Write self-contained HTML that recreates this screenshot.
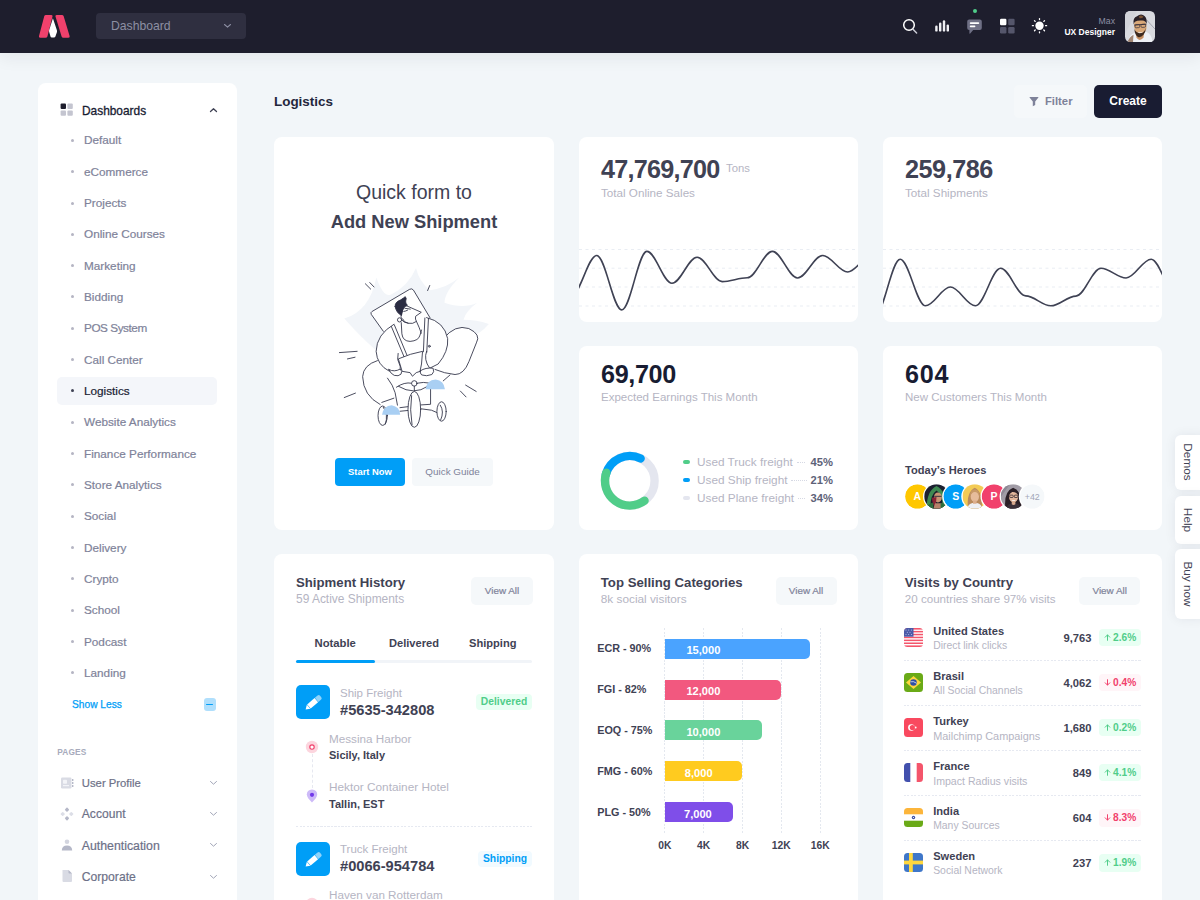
<!DOCTYPE html>
<html lang="en">
<head>
<meta charset="utf-8">
<title>Logistics Dashboard</title>
<style>
*{box-sizing:border-box;margin:0;padding:0}
html,body{width:1200px;height:900px;overflow:hidden}
body{background:#f2f6f9;font-family:"Liberation Sans",sans-serif;color:#3f4254;position:relative}
.abs{position:absolute}
/* header */
#hdr{position:absolute;left:0;top:0;width:1200px;height:52.500px;background:#1e1e2d;box-shadow:0 5px 16px rgba(30,30,45,.065)}
#sel{position:absolute;left:96px;top:13px;width:150px;height:26px;border-radius:4px;background:#2f2f40;color:#8d8fa3;font-size:12.200px;line-height:26px;padding-left:15px}
/* sidebar */
#side{position:absolute;left:38px;top:83px;width:199px;height:830px;background:#fff;border-radius:8px}
.mi{position:absolute;left:84px;font-size:11.750px;-webkit-text-stroke:.2px currentColor;color:#7e8299;font-weight:400;white-space:nowrap;line-height:14px}
.dot{position:absolute;left:71px;width:3px;height:3px;border-radius:50%;background:#b5b5c3}
.pg{position:absolute;left:81.800px;margin-top:.5px;font-size:11.9px;-webkit-text-stroke:.2px currentColor;color:#6d7188;white-space:nowrap;line-height:14px}
/* cards */
.card{position:absolute;background:#fff;border-radius:8px}
.big{position:absolute;font-weight:700;color:#3f4254;font-size:25px;letter-spacing:-.6px;line-height:30px;white-space:nowrap}
.sub{position:absolute;font-size:11.2px;color:#b5b5c3;white-space:nowrap;line-height:14px}
.ttl{position:absolute;font-size:13.3px;font-weight:700;color:#3f4254;white-space:nowrap;line-height:16px}
.va{position:absolute;width:62px;height:27.500px;border-radius:5px;background:#f5f8fa;color:#7e8299;font-size:9.6px;line-height:27.500px;-webkit-text-stroke:.2px currentColor;text-align:center}
.t{position:absolute;white-space:nowrap}
</style>
</head>
<body>
<!-- HEADER -->
<div id="hdr">
  <svg class="abs" style="left:38px;top:13px" width="33" height="26" viewBox="0 0 33 26">
    <path d="M7.900 1.900 H13.400 Q15 1.900 14.500 3.500 L9.400 23.400 Q9 24.800 7.500 24.800 H2.300 Q0.300 24.800 1 23 L6.300 3.100 Q6.700 1.900 7.900 1.900Z" fill="#f1416c"/>
    <path d="M18.600 1.900 H24 Q25.200 1.900 25.600 3.100 L31.600 23 Q32.200 24.800 30.400 24.800 H25.400 Q24 24.800 23.600 23.400 L17.500 3.500 Q17 1.900 18.600 1.900Z" fill="#f1416c"/>
    <path d="M14.900 5.200 L18.900 17.300 Q19.200 18.300 18.900 19.200 L17.400 23.500 Q17 24.500 16 24.500 H13.800 Q12.800 24.500 12.500 23.500 L11.200 19 Q10.900 18 11.200 17Z" fill="#ffffff"/>
  </svg>
  <div id="sel">Dashboard</div>
  <svg class="abs" style="left:223px;top:23px" width="9" height="6" viewBox="0 0 9 6"><path d="M1.5 1.5 L4.5 4.2 L7.5 1.5" fill="none" stroke="#8d8fa3" stroke-width="1.1" stroke-linecap="round" stroke-linejoin="round"/></svg>
  <!-- search -->
  <svg class="abs" style="left:901px;top:17px" width="18" height="18" viewBox="0 0 18 18"><circle cx="8" cy="8" r="5.3" fill="none" stroke="#fff" stroke-width="1.5"/><path d="M12 12.2 L15.6 16" stroke="#c9cad3" stroke-width="1.5" stroke-linecap="round"/></svg>
  <!-- bars -->
  <svg class="abs" style="left:934px;top:18px" width="16" height="15" viewBox="0 0 16 15"><g fill="#f0f0f4"><rect x="1.2" y="7.6" width="2.4" height="6" rx="1.2"/><rect x="5.0" y="4.6" width="2.4" height="9" rx="1.2"/><rect x="8.8" y="2.2" width="2.4" height="11.4" rx="1.2"/><rect x="12.6" y="6.4" width="2.4" height="7.2" rx="1.2"/></g></svg>
  <!-- chat -->
  <div class="abs" style="left:972.5px;top:9px;width:4px;height:4px;border-radius:50%;background:#50cd89"></div>
  <svg class="abs" style="left:966px;top:18px" width="17" height="17" viewBox="0 0 17 17"><path d="M3.2 1.4 H13.8 Q15.8 1.4 15.8 3.4 V10 Q15.8 12 13.8 12 H7.2 L4.2 15.4 Q3.4 16.2 3.4 15 V12 H3.2 Q1.2 12 1.2 10 V3.4 Q1.2 1.4 3.2 1.4Z" fill="#6f7085"/><rect x="3.8" y="4.3" width="9.4" height="1.7" rx=".8" fill="#fff"/><rect x="3.8" y="7.6" width="5.6" height="1.7" rx=".8" fill="#fff"/></svg>
  <!-- grid -->
  <svg class="abs" style="left:999px;top:18px" width="17" height="17" viewBox="0 0 17 17"><rect x="1" y="0.8" width="6.4" height="6.4" rx="1.2" fill="#fff"/><rect x="9.2" y="0.8" width="6.4" height="6.4" rx="1.2" fill="#55566b"/><rect x="1" y="9" width="6.4" height="6.4" rx="1.2" fill="#55566b"/><rect x="9.2" y="9" width="6.4" height="6.4" rx="1.2" fill="#55566b"/></svg>
  <!-- sun -->
  <svg class="abs" style="left:1030px;top:16px" width="19" height="19" viewBox="0 0 19 19"><circle cx="9.5" cy="9.7" r="4.2" fill="#fff"/><g stroke="#fff" stroke-width="1.3" stroke-linecap="round"><path d="M9.5 2.6v1M9.5 15.8v1M2.4 9.7h1M15.6 9.7h1M4.5 4.7l.7.7M13.8 14l.7.7M4.5 14.7l.7-.7M13.8 5.4l.7-.7"/></g></svg>
  <div class="t" style="right:85px;top:15.700px;font-size:8.7px;color:#8d8fa3;line-height:11px">Max</div>
  <div class="t" style="right:85px;top:26.700px;font-size:8.5px;font-weight:700;color:#fff;line-height:11px">UX Designer</div>
  <!-- avatar -->
  <svg class="abs" style="left:1125px;top:11px" width="30" height="31" viewBox="0 0 30 30" preserveAspectRatio="none">
    <defs><clipPath id="avc"><rect width="30" height="30" rx="5"/></clipPath></defs>
    <g clip-path="url(#avc)">
      <rect width="30" height="30" fill="#d9dadf"/>
      <path d="M0 0 H12 L0 22Z" fill="#d2d3d9"/>
      <path d="M21 8 L30 17.500" stroke="#8f8f9c" stroke-width=".7"/>
      <path d="M3 30 Q4 22.500 10 21 L21 20 Q27 22 27.500 30Z" fill="#eef1f6"/>
      <path d="M2.500 30 Q4.500 25 8.500 23 L8 30Z" fill="#a08573"/>
      <path d="M10.500 19 L19.500 18 L18.500 26 Q14.500 30 11.500 26Z" fill="#c58f63"/>
      <ellipse cx="15.300" cy="14.600" rx="6.300" ry="8" fill="#d9a878" transform="rotate(-6 15.300 14.600)"/>
      <path d="M9.400 17.500 Q9.800 23.500 13 25.200 Q16 26 18.500 23 Q20.600 20.500 20.900 16 Q19.500 21.500 15.500 21.300 Q11 21.500 9.400 17.500Z" fill="#3c2a20"/>
      <path d="M12.500 20.600 Q15.500 22.800 18.200 19.800 Q15.600 20.800 12.500 20.600Z" fill="#f6efe9"/>
      <path d="M8.600 13 Q7.600 6.500 12 5.200 Q15 2.500 18 3.800 Q22.200 5.500 21.700 12.500 Q20.500 9.500 17.500 9.300 Q12.500 8.800 10 10.500 Q9 11.500 8.600 13Z" fill="#2a2027"/>
      <path d="M14 5 Q16 3.500 18.500 5.500 Q17 7.500 14.500 7Z" fill="#7a5232"/>
      <path d="M9.300 13.600 L21.400 12.800" stroke="#2f2a33" stroke-width=".9"/>
      <rect x="10" y="13.200" width="4.600" height="3" rx="1" fill="none" stroke="#3b3440" stroke-width=".7" transform="rotate(-4 12 14)"/>
      <rect x="16" y="12.800" width="4.600" height="3" rx="1" fill="none" stroke="#3b3440" stroke-width=".7" transform="rotate(-4 18 14)"/>
    </g>
  </svg>
</div>

<!-- SIDEBAR -->
<div id="side"></div>
<!-- dashboards heading -->
<svg class="abs" style="left:60px;top:103px" width="14" height="14" viewBox="0 0 14 14"><rect x="0.6" y="0.6" width="5.4" height="5.4" rx="1" fill="#1e1e2d"/><rect x="7.4" y="0.6" width="5.4" height="5.4" rx="1" fill="#c4c5d0"/><rect x="0.6" y="7.4" width="5.4" height="5.4" rx="1" fill="#c4c5d0"/><rect x="7.4" y="7.4" width="5.4" height="5.4" rx="1" fill="#c4c5d0"/></svg>
<div class="t" style="left:82px;top:103.700px;font-size:11.9px;color:#181c32;line-height:14px;-webkit-text-stroke:.3px currentColor">Dashboards</div>
<svg class="abs" style="left:209px;top:107px" width="9" height="6" viewBox="0 0 9 6"><path d="M1.5 4.5 L4.5 1.7 L7.5 4.5" fill="none" stroke="#3f4254" stroke-width="1.3" stroke-linecap="round" stroke-linejoin="round"/></svg>
<div class="dot" style="top:138.8px"></div>
<div class="mi" style="top:133.3px">Default</div>
<div class="dot" style="top:170.1px"></div>
<div class="mi" style="top:164.6px">eCommerce</div>
<div class="dot" style="top:201.5px"></div>
<div class="mi" style="top:196.0px">Projects</div>
<div class="dot" style="top:232.8px"></div>
<div class="mi" style="top:227.3px">Online Courses</div>
<div class="dot" style="top:264.1px"></div>
<div class="mi" style="top:258.6px">Marketing</div>
<div class="dot" style="top:295.4px"></div>
<div class="mi" style="top:289.9px">Bidding</div>
<div class="dot" style="top:326.8px"></div>
<div class="mi" style="top:321.3px;letter-spacing:-.45px">POS System</div>
<div class="dot" style="top:358.1px"></div>
<div class="mi" style="top:352.6px">Call Center</div>
<div class="abs" style="left:57px;top:376.9px;width:160px;height:28px;border-radius:5px;background:#f4f6fa"></div>
<div class="dot" style="top:389.4px;background:#3f4254"></div>
<div class="mi" style="top:383.9px;color:#181c32">Logistics</div>
<div class="dot" style="top:420.8px"></div>
<div class="mi" style="top:415.3px">Website Analytics</div>
<div class="dot" style="top:452.1px"></div>
<div class="mi" style="top:446.6px">Finance Performance</div>
<div class="dot" style="top:483.4px"></div>
<div class="mi" style="top:477.9px">Store Analytics</div>
<div class="dot" style="top:514.8px"></div>
<div class="mi" style="top:509.3px">Social</div>
<div class="dot" style="top:546.1px"></div>
<div class="mi" style="top:540.6px">Delivery</div>
<div class="dot" style="top:577.4px"></div>
<div class="mi" style="top:571.9px">Crypto</div>
<div class="dot" style="top:608.8px"></div>
<div class="mi" style="top:603.2px">School</div>
<div class="dot" style="top:640.1px"></div>
<div class="mi" style="top:634.6px">Podcast</div>
<div class="dot" style="top:671.4px"></div>
<div class="mi" style="top:665.9px">Landing</div>
<div class="pg" style="top:775.6px;font-size:11.3px">User Profile</div>
<svg class="abs" style="left:209px;top:779.6px" width="9" height="6" viewBox="0 0 9 6"><path d="M1.5 1.5 L4.5 4.2 L7.5 1.5" fill="none" stroke="#a1a5b7" stroke-width="1" stroke-linecap="round" stroke-linejoin="round"/></svg>
<div class="pg" style="top:806.9px;font-size:12.1px">Account</div>
<svg class="abs" style="left:209px;top:810.9px" width="9" height="6" viewBox="0 0 9 6"><path d="M1.5 1.5 L4.5 4.2 L7.5 1.5" fill="none" stroke="#a1a5b7" stroke-width="1" stroke-linecap="round" stroke-linejoin="round"/></svg>
<div class="pg" style="top:838.3px;font-size:12.3px">Authentication</div>
<svg class="abs" style="left:209px;top:842.3px" width="9" height="6" viewBox="0 0 9 6"><path d="M1.5 1.5 L4.5 4.2 L7.5 1.5" fill="none" stroke="#a1a5b7" stroke-width="1" stroke-linecap="round" stroke-linejoin="round"/></svg>
<div class="pg" style="top:869.6px;font-size:12.15px">Corporate</div>
<svg class="abs" style="left:209px;top:873.6px" width="9" height="6" viewBox="0 0 9 6"><path d="M1.5 1.5 L4.5 4.2 L7.5 1.5" fill="none" stroke="#a1a5b7" stroke-width="1" stroke-linecap="round" stroke-linejoin="round"/></svg>
<div class="t" style="left:72px;top:698.200px;font-size:10.2px;color:#009ef7;line-height:14px;-webkit-text-stroke:.25px currentColor">Show Less</div>
<div class="abs" style="left:203.500px;top:698.300px;width:12.500px;height:12.300px;border-radius:3px;background:#b0dffc"></div>
<div class="abs" style="left:206px;top:703.500px;width:7px;height:1.500px;border-radius:1px;background:#009ef7"></div>
<div class="t" style="left:57.300px;top:746.200px;font-size:8.300px;font-weight:700;color:#a7abbc;line-height:12px;letter-spacing:.15px">PAGES</div>
<!-- page icons -->
<svg class="abs" style="left:60px;top:776px" width="14" height="14" viewBox="0 0 14 14"><rect x="1" y="1.5" width="10.5" height="11" rx="1.200" fill="#d9dbe4"/><rect x="3" y="3.800" width="4" height="4" rx=".8" fill="#f3f4f8"/><rect x="3" y="9" width="6" height="1.200" fill="#f3f4f8"/><rect x="12" y="3" width="1.400" height="2" fill="#b5b8c8"/><rect x="12" y="6" width="1.400" height="2" fill="#b5b8c8"/><rect x="12" y="9" width="1.400" height="2" fill="#b5b8c8"/></svg>
<svg class="abs" style="left:60px;top:807px" width="14" height="14" viewBox="0 0 14 14"><g fill="#b5b8c8"><rect x="5.3" y="1" width="3.400" height="3.400" rx=".8" transform="rotate(45 7 2.700)"/><rect x="5.3" y="9.600" width="3.400" height="3.400" rx=".8" transform="rotate(45 7 11.300)"/></g><g fill="#dcdee7"><rect x="1" y="5.300" width="3.400" height="3.400" rx=".8" transform="rotate(45 2.700 7)"/><rect x="9.600" y="5.300" width="3.400" height="3.400" rx=".8" transform="rotate(45 11.300 7)"/></g></svg>
<svg class="abs" style="left:60px;top:838px" width="14" height="14" viewBox="0 0 14 14"><circle cx="7" cy="3.800" r="2.300" fill="#d3d5df"/><path d="M1.800 12.600 Q2 7.600 7 7.600 Q12 7.600 12.200 12.600 Z" fill="#b5b8c8"/></svg>
<svg class="abs" style="left:60px;top:869px" width="14" height="14" viewBox="0 0 14 14"><path d="M2.500 1 H8.500 L12 4.500 V12 Q12 13 11 13 H3.500 Q2.500 13 2.500 12Z" fill="#d9dbe4"/><path d="M8.500 1 L12 4.500 H9.300 Q8.500 4.500 8.500 3.700Z" fill="#b5b8c8"/></svg>


<!-- PAGE TITLE -->
<div class="t" style="left:274px;top:93.700px;font-size:13.450px;font-weight:700;color:#23263c;line-height:16px">Logistics</div>
<div class="abs" style="left:1014px;top:85px;width:73px;height:32.500px;border-radius:5px;background:#f5f8fa"></div>
<svg class="abs" style="left:1029px;top:96px" width="10" height="11" viewBox="0 0 10 11"><path d="M0.800 1 H9.2 Q9.8 1 9.400 1.600 L6.2 5.400 V9 L3.800 10.300 V5.400 L0.600 1.600 Q0.200 1 0.800 1Z" fill="#7e8299"/></svg>
<div class="t" style="left:1045px;top:94.300px;font-size:11.250px;font-weight:700;color:#7e8299;line-height:14px">Filter</div>
<div class="abs" style="left:1094px;top:85px;width:68px;height:32.500px;border-radius:5px;background:#191c32;color:#fff;font-size:12px;font-weight:700;line-height:32.500px;text-align:center">Create</div>

<!-- CARDS -->
<div class="card" id="c1" style="left:274px;top:137px;width:280px;height:393px"></div>
<div class="t" style="left:274px;width:280px;text-align:center;top:180px;font-size:19.5px;color:#3f4254;line-height:24px">Quick form to</div>
<div class="t" style="left:274px;width:280px;text-align:center;top:210px;font-size:18.3px;font-weight:700;color:#3f4254;line-height:24px">Add New Shipment</div>
<svg class="abs" style="left:320px;top:250px" width="180" height="190" viewBox="0 0 853 900" fill="none" stroke-linecap="round" stroke-linejoin="round">
  <!-- burst -->
  <path d="M115 325 Q235 290 267 130 Q300 225 335 212 Q420 170 455 85 Q470 150 520 190 Q600 180 660 130 Q590 200 590 250 Q680 280 745 250 Q690 290 680 330 Q740 330 800 350 Q760 400 690 420 L600 470 L260 470 Q200 420 115 325Z" fill="#f2f5f9" stroke="none"/>
  <g stroke="#33354a" stroke-width="4.200">
  <!-- board -->
  <path d="M300 385 L243 305 Q238 296 247 291 L425 186 Q436 180 443 190 L522 322" fill="#fff"/>
  <!-- right leg (behind) -->
  <path d="M585 420 Q640 350 705 372 Q765 400 741 440 L706 528 Q682 590 640 590 Q590 585 545 566" fill="#fff"/><path d="M616 592 L584 620"/>
  <!-- left leg -->
  <path d="M272 524 Q205 545 202 600 Q205 690 280 730 L367 735 L355 675 L320 607 L290 540 Z" fill="#fff" stroke="none"/><path d="M272 524 Q205 545 202 600 Q205 690 285 732"/><path d="M320 607 Q346 640 356 676 L367 735"/>
  <!-- torso -->
  <path d="M350 350 Q300 380 280 430 L300 560 L540 560 L600 430 Q580 350 510 322 Z" fill="#fff" stroke="none"/>
  <!-- left arm -->
  <path d="M350 352 Q268 400 266 480 Q270 545 330 575 L372 585 Q385 560 378 545 Q362 520 370 490" fill="#fff"/>
  <!-- right arm -->
  <path d="M505 320 Q590 340 605 420 Q610 480 560 540 L520 560 Q490 520 505 480" fill="#fff"/>
  <!-- overall bib -->
  <path d="M373 515 Q430 490 486 480 L481 540 L474 575 L456 581 L438 598 L427 581 L391 575 Z" fill="#fff"/>
  <!-- suspenders -->
  <path d="M338 362 L398 505 M352 354 L412 498 M497 322 L490 482 M514 324 L506 484"/>
  <!-- neck + neckline -->
  <path d="M385 344 L388 397 Q392 432 427 433 Q468 430 474 403 L481 379" fill="#fff"/>
  <path d="M457 338 Q470 365 480 394"/>
  <!-- head -->
  <path d="M403 261 L480 295 L453 314 Q450 328 457 338 Q440 352 418 347 Q396 344 386 330 Q378 300 403 261Z" fill="#fff"/>
  <path d="M391 326 Q397 344 418 347"/>
  <circle cx="377" cy="331" r="10" fill="#fff"/>
  <path d="M397 291 Q406 290 415 285 M402 276 L428 280"/>
  <circle cx="518" cy="456" r="4.500"/>
  <!-- hair -->
  <path d="M356 268 Q354 246 383 236 Q398 226 404 221 Q412 228 406 242 Q404 252 414 262 Q398 266 392 284 L386 310 Q362 298 356 268Z" fill="#2a2c42" stroke="#2a2c42"/>
  <!-- hands -->
  <path d="M326 566 Q352 580 380 564 Q392 574 384 588 Q372 600 352 594 Q336 588 326 566Z" fill="#fff"/>
  <path d="M476 572 Q500 556 536 560 Q544 578 530 590 Q505 600 482 592 Q472 584 476 572Z" fill="#fff"/>
  <!-- handlebar -->
  
  <circle cx="447" cy="632" r="13" fill="#fff"/>
  <path d="M362 650 Q400 624 433 631 M460 631 Q492 624 516 630 M372 646 Q446 690 510 646"/>
  <!-- frame -->
  <path d="M447 645 L447 668 M524 660 L524 731 L478 734 M379 747 L427 741 M379 764 L438 758 M478 752 Q530 752 575 779"/>
  <!-- wheels -->
  <ellipse cx="447" cy="755" rx="30" ry="85" fill="#fff"/>
  <path d="M434 690 Q424 755 436 828"/>
  <ellipse cx="576" cy="765" rx="22" ry="46" fill="#fff"/>
  <path d="M570 735 Q590 765 572 805"/>
  <ellipse cx="297" cy="785" rx="22" ry="46" fill="#fff"/>
  <path d="M300 745 Q325 780 310 825"/>
  <!-- cuffs -->
  <path d="M293 722 L350 702"/>
  <!-- motion lines -->
  <path d="M215 160 L240 185 M236 154 L256 175 M510 192 L520 168 M92 486 L176 480 M130 516 L166 508 M115 699 L168 678 M665 668 L692 696 M690 640 L740 670"/>
  </g>
  <!-- shoes -->
  <path d="M500 660 Q505 615 548 613 Q588 618 592 660Z" fill="#a9cff3" stroke="none"/>
  <path d="M294 780 Q300 738 340 735 Q378 742 380 780Z" fill="#a9cff3" stroke="none"/>
</svg>
<div class="abs" style="left:335px;top:458px;width:70px;height:28px;border-radius:4px;background:#009ef7;color:#fff;font-size:9.400px;font-weight:700;line-height:28px;text-align:center">Start Now</div>
<div class="abs" style="left:412px;top:458px;width:81px;height:28px;border-radius:4px;background:#f5f8fa;color:#7e8299;font-size:9.900px;line-height:28px;text-align:center">Quick Guide</div>
<div class="card" id="c2" style="left:579px;top:137px;width:279px;height:185px;overflow:hidden"><svg class="abs" style="left:0;top:0;border-radius:8px" width="279" height="185" viewBox="0 0 279 185"><path d="M0 112.5 H279" stroke="#e9edf3" stroke-width="1" stroke-dasharray="3 3.500"/><path d="M0 131.2 H279" stroke="#e9edf3" stroke-width="1" stroke-dasharray="3 3.500"/><path d="M0 150.0 H279" stroke="#e9edf3" stroke-width="1" stroke-dasharray="3 3.500"/><path d="M0 169.0 H279" stroke="#e9edf3" stroke-width="1" stroke-dasharray="3 3.500"/><path d="M-7.4 158.3 C1.4 158.3 8.9 118.5 17.7 118.5 C26.5 118.5 34.0 172.9 42.8 172.9 C51.6 172.9 59.1 114.4 67.9 114.4 C76.7 114.4 84.2 146.3 93.0 146.3 C101.8 146.3 109.3 120.2 118.1 120.2 C126.9 120.2 134.4 144.6 143.2 144.6 C152.0 144.6 159.5 140.8 168.3 140.8 C177.1 140.8 184.6 114.4 193.4 114.4 C202.2 114.4 209.7 141.0 218.5 141.0 C227.3 141.0 234.8 118.5 243.6 118.5 C252.4 118.5 259.9 135.0 268.7 135.0 C277.5 135.0 285.0 117.1 293.8 117.1" fill="none" stroke="#3f4254" stroke-width="1.600" stroke-linecap="round"/></svg>
<div class="big" style="left:22px;top:16.500px;font-size:25.200px;letter-spacing:-.75px">47,769,700</div>
<div class="t" style="left:147px;top:25.300px;font-size:11.300px;color:#b5b5c3;line-height:12px">Tons</div>
<div class="sub" style="left:22px;top:49px;font-size:11.660px">Total Online Sales</div>
</div>
<div class="card" id="c3" style="left:883px;top:137px;width:279px;height:185px;overflow:hidden"><svg class="abs" style="left:0;top:0;border-radius:8px" width="279" height="185" viewBox="0 0 279 185"><path d="M0 112.5 H279" stroke="#e9edf3" stroke-width="1" stroke-dasharray="3 3.500"/><path d="M0 131.2 H279" stroke="#e9edf3" stroke-width="1" stroke-dasharray="3 3.500"/><path d="M0 150.0 H279" stroke="#e9edf3" stroke-width="1" stroke-dasharray="3 3.500"/><path d="M0 169.0 H279" stroke="#e9edf3" stroke-width="1" stroke-dasharray="3 3.500"/><path d="M-7.9 178.3 C0.9 178.3 8.4 122.2 17.2 122.2 C26.0 122.2 33.5 168.8 42.3 168.8 C51.1 168.8 58.6 150.0 67.4 150.0 C76.2 150.0 83.7 168.8 92.5 168.8 C101.3 168.8 108.8 131.3 117.6 131.3 C126.4 131.3 133.9 158.9 142.7 158.9 C151.5 158.9 159.0 168.8 167.8 168.8 C176.6 168.8 184.1 159.1 192.9 159.1 C201.7 159.1 209.2 131.3 218.0 131.3 C226.8 131.3 234.3 141.0 243.1 141.0 C251.9 141.0 259.4 122.2 268.2 122.2 C277.0 122.2 284.5 158.8 293.3 158.8" fill="none" stroke="#3f4254" stroke-width="1.600" stroke-linecap="round"/></svg>
<div class="big" style="left:22px;top:16.500px;font-size:25.200px;letter-spacing:-.45px">259,786</div>
<div class="sub" style="left:22px;top:49px;font-size:11.660px">Total Shipments</div>
</div>
<div class="card" id="c4" style="left:579px;top:346px;width:279px;height:184px"><svg class="abs" style="left:0;top:0" width="110" height="184" viewBox="0 0 110 184"><circle cx="50.8" cy="134.8" r="24.8" fill="none" stroke="#e4e6ef" stroke-width="8.400"/><path d="M26.85 128.38 A24.8 24.8 0 0 1 61.67 112.51" fill="none" stroke="#009ef7" stroke-width="8.400" stroke-linecap="round"/><path d="M65.59 154.71 A24.8 24.8 0 0 1 27.35 126.73" fill="none" stroke="#50cd89" stroke-width="8.400" stroke-linecap="round"/></svg>
<div class="big" style="left:22px;top:12.500px;font-size:25.200px;letter-spacing:-.35px;color:#181c32">69,700</div>
<div class="sub" style="left:22px;top:44px;font-size:11.530px">Expected Earnings This Month</div>
<div class="abs" style="left:104px;top:114px;width:7px;height:4px;border-radius:2px;background:#50cd89"></div>
<div class="t" style="left:118px;top:109px;font-size:11.800px;color:#b5b5c3;line-height:14px">Used Truck freight</div>
<div class="abs" style="left:218px;top:116px;width:8px;border-top:1px dotted #d6d9e4"></div>
<div class="t" style="right:25px;top:109px;font-size:11.200px;font-weight:700;color:#5e6278;line-height:14px">45%</div>
<div class="abs" style="left:104px;top:132px;width:7px;height:4px;border-radius:2px;background:#009ef7"></div>
<div class="t" style="left:118px;top:127px;font-size:11.800px;color:#b5b5c3;line-height:14px">Used Ship freight</div>
<div class="abs" style="left:212px;top:134px;width:16px;border-top:1px dotted #d6d9e4"></div>
<div class="t" style="right:25px;top:127px;font-size:11.200px;font-weight:700;color:#5e6278;line-height:14px">21%</div>
<div class="abs" style="left:104px;top:150px;width:7px;height:4px;border-radius:2px;background:#e4e6ef"></div>
<div class="t" style="left:118px;top:145px;font-size:11.800px;color:#b5b5c3;line-height:14px">Used Plane freight</div>
<div class="abs" style="left:219px;top:152px;width:7px;border-top:1px dotted #d6d9e4"></div>
<div class="t" style="right:25px;top:145px;font-size:11.200px;font-weight:700;color:#5e6278;line-height:14px">34%</div>
</div>
<div class="card" id="c5" style="left:883px;top:346px;width:279px;height:184px">
<div class="big" style="left:22px;top:12.500px;font-size:25.200px;letter-spacing:.7px;color:#181c32">604</div>
<div class="sub" style="left:22px;top:44px;font-size:11.530px">New Customers This Month</div>
<div class="t" style="left:22px;top:117px;font-size:11.100px;font-weight:700;color:#3f4254;line-height:14px">Today’s Heroes</div>
<svg class="abs" style="left:0;top:137.2px" width="200" height="27" viewBox="0 0 200 27"><defs><clipPath id="hc"><circle cx="13.5" cy="13.5" r="12.3"/></clipPath></defs><g transform="translate(20.9 0)"><circle cx="13.5" cy="13.5" r="13.500" fill="#fff"/><g clip-path="url(#hc)"><circle cx="13.5" cy="13.5" r="12.3" fill="#ffc700"/><text x="13.5" y="17.300" text-anchor="middle" font-family="Liberation Sans, sans-serif" font-size="10.500" font-weight="700" fill="#fff">A</text></g></g><g transform="translate(40.0 0)"><circle cx="13.5" cy="13.5" r="13.500" fill="#fff"/><g clip-path="url(#hc)"><g transform="translate(1.2 1.2) scale(.911)"><rect width="27" height="27" fill="#1c2030"/><path d="M3 27 Q2 8 13.500 2 Q25 8 24 27Z" fill="#3f8a52"/><path d="M7 27 Q6 12 13.500 7 Q21 12 20 27Z" fill="#1a1d2b"/><ellipse cx="15" cy="14.500" rx="4.300" ry="5.500" fill="#c99573"/><path d="M8.500 15 Q9 23 12.500 26 L13.500 14Z" fill="#8a2335"/><path d="M11 13.300 H19" stroke="#2a2c3a" stroke-width="1"/><path d="M10 27 L12 21 H19 L21 27Z" fill="#b7826a"/><path d="M2 27 Q4 21 10 20 L10 27Z M25 27 Q23 21 18 20.500 L18 27Z" fill="#2c6d3d"/></g></g></g><g transform="translate(59.2 0)"><circle cx="13.5" cy="13.5" r="13.500" fill="#fff"/><g clip-path="url(#hc)"><circle cx="13.5" cy="13.5" r="12.3" fill="#009ef7"/><text x="13.5" y="17.300" text-anchor="middle" font-family="Liberation Sans, sans-serif" font-size="10.500" font-weight="700" fill="#fff">S</text></g></g><g transform="translate(78.3 0)"><circle cx="13.5" cy="13.5" r="13.500" fill="#fff"/><g clip-path="url(#hc)"><g transform="translate(1.2 1.2) scale(.911)"><rect width="27" height="27" fill="#f3cb55"/><path d="M6 27 Q4 9 13.500 4 Q23 9 21 27Z" fill="#b98a5c"/><ellipse cx="13.500" cy="13.500" rx="4.600" ry="6" fill="#e6bc9b"/><path d="M8.300 14 Q8 6 13.500 5.500 Q19 6 18.700 14 Q17 8.500 13.500 8.500 Q10 8.500 8.300 14Z" fill="#c89a68"/><path d="M5 27 Q6 21.500 11 20.500 H16 Q21 21.500 22 27Z" fill="#eef0f4"/><path d="M11.500 18 H15.500 V21.500 H11.500Z" fill="#dcae8c"/></g></g></g><g transform="translate(97.5 0)"><circle cx="13.5" cy="13.5" r="13.500" fill="#fff"/><g clip-path="url(#hc)"><circle cx="13.5" cy="13.5" r="12.3" fill="#f1416c"/><text x="13.5" y="17.300" text-anchor="middle" font-family="Liberation Sans, sans-serif" font-size="10.500" font-weight="700" fill="#fff">P</text></g></g><g transform="translate(116.6 0)"><circle cx="13.5" cy="13.5" r="13.500" fill="#fff"/><g clip-path="url(#hc)"><g transform="translate(1.2 1.2) scale(.911)"><rect width="27" height="27" fill="#a19ca6"/><path d="M0 0 H10 L0 14Z" fill="#8d8894"/><path d="M5 27 Q3 8 13.500 4 Q24 8 22 27Z" fill="#2b2027"/><ellipse cx="14" cy="13.800" rx="5" ry="6.300" fill="#e3b79c"/><path d="M8.500 13 Q8.500 5 14 5.500 Q20 5.500 19.500 13 Q17.500 8 12.500 8.500 Q9.500 10 8.500 13Z" fill="#2b2027"/><rect x="9.800" y="12" width="3.800" height="2.600" rx=".8" fill="none" stroke="#26202a" stroke-width=".8"/><rect x="14.800" y="12" width="3.800" height="2.600" rx=".8" fill="none" stroke="#26202a" stroke-width=".8"/><path d="M11.800 17.300 Q14 19.300 16.400 17.300Z" fill="#fff"/><path d="M6 27 Q7 22 11.500 21 H16.500 Q21 22 22 27Z" fill="#3a2f38"/><path d="M12 19 H16 V22 Q14 23.500 12 22Z" fill="#d9a98d"/></g></g></g><g transform="translate(135.8 0)"><circle cx="13.5" cy="13.5" r="13.500" fill="#fff"/><g clip-path="url(#hc)"><circle cx="13.5" cy="13.5" r="12.3" fill="#f5f8fa"/><text x="13.5" y="16.600" text-anchor="middle" font-family="Liberation Sans, sans-serif" font-size="8.800" fill="#a1a5b7">+42</text></g></g></svg>
</div>
<div class="card" id="c6" style="left:274px;top:554px;width:280px;height:360px">
<div class="t" style="left:22px;top:20.8px;font-size:13.2px;font-weight:700;color:#3f4254;line-height:16px">Shipment History</div>
<div class="t" style="left:22px;top:37.8px;font-size:11.950px;color:#b5b5c3;line-height:14px">59 Active Shipments</div>
<div class="va" style="left:197px;top:23px;font-size:9.900px">View All</div>
<div class="t" style="left:21.19999999999999px;width:80px;text-align:center;top:81.79999999999995px;font-size:11.300px;font-weight:700;color:#3f4254;line-height:14px">Notable</div>
<div class="t" style="left:100px;width:80px;text-align:center;top:81.79999999999995px;font-size:11.100px;font-weight:700;color:#3f4254;line-height:14px">Delivered</div>
<div class="t" style="left:178.8px;width:80px;text-align:center;top:81.79999999999995px;font-size:11.100px;font-weight:700;color:#3f4254;line-height:14px">Shipping</div>
<div class="abs" style="left:22px;top:105.5px;width:236px;height:3px;border-radius:2px;background:#f1f4f8"></div>
<div class="abs" style="left:22px;top:105.5px;width:79px;height:3px;border-radius:2px;background:#009ef7"></div>
<div class="abs" style="left:22px;top:131px;width:34px;height:34px;border-radius:5px;background:#009ef7"></div>
<svg class="abs" style="left:27.3px;top:136.8px" width="24" height="24" viewBox="0 0 24 24"><g transform="rotate(-41 12 12)"><path d="M2.200 12 L6.200 9.300 V14.700Z" fill="#fff"/><rect x="6.600" y="9.300" width="9.800" height="5.400" fill="#fff"/><path d="M16.800 9.300 H20.400 Q22 9.300 22 10.900 V13.100 Q22 14.700 20.400 14.700 H16.800Z" fill="#8fd3fb"/></g></svg>
<div class="t" style="left:66px;top:131.8px;font-size:11.5px;color:#b5b5c3;line-height:14px">Ship Freight</div>
<div class="t" style="left:66px;top:146.8px;font-size:14.650px;font-weight:700;color:#3f4254;line-height:18px">#5635-342808</div>
<div class="abs" style="left:202px;top:140px;width:56px;height:16px;border-radius:4px;background:#e8fff3;color:#50cd89;font-size:10.300px;font-weight:700;line-height:16px;text-align:center">Delivered</div>
<div class="abs" style="left:37.5px;top:200px;height:34px;border-left:1px dashed #e6e8f0"></div>
<svg class="abs" style="left:30.80000000000001px;top:186.29999999999995px" width="14" height="14" viewBox="0 0 14 14"><circle cx="7" cy="7" r="6.200" fill="#fcd5de"/><circle cx="7" cy="7" r="2.200" fill="#fff" stroke="#f1416c" stroke-width="1.150"/></svg>
<svg class="abs" style="left:30.80000000000001px;top:233.70000000000005px" width="14" height="16" viewBox="0 0 14 16"><path d="M7 1.400 Q12.200 1.600 12.200 6.600 Q12 10 7 14.400 Q2 10 1.800 6.600 Q1.800 1.600 7 1.400Z" fill="#cdbaf8"/><circle cx="7" cy="6.800" r="2.100" fill="#7239ea"/></svg>
<div class="t" style="left:55px;top:177.8px;font-size:11.7px;color:#b5b5c3;line-height:14px">Messina Harbor</div>
<div class="t" style="left:55px;top:193.8px;font-size:11px;font-weight:700;color:#3f4254;line-height:14px">Sicily, Italy</div>
<div class="t" style="left:55px;top:226.2px;font-size:11.800px;color:#b5b5c3;line-height:14px">Hektor Container Hotel</div>
<div class="t" style="left:55px;top:242.6px;font-size:11px;font-weight:700;color:#3f4254;line-height:14px">Tallin, EST</div>
<div class="abs" style="left:22px;top:272px;width:236px;height:1px;background:repeating-linear-gradient(90deg,#e6e9f1 0 2px,transparent 2px 3.500px)"></div>
<div class="abs" style="left:22px;top:288px;width:34px;height:34px;border-radius:5px;background:#009ef7"></div>
<svg class="abs" style="left:27.3px;top:293.8px" width="24" height="24" viewBox="0 0 24 24"><g transform="rotate(-41 12 12)"><path d="M2.200 12 L6.200 9.300 V14.700Z" fill="#fff"/><rect x="6.600" y="9.300" width="9.800" height="5.400" fill="#fff"/><path d="M16.800 9.300 H20.400 Q22 9.300 22 10.900 V13.100 Q22 14.700 20.400 14.700 H16.800Z" fill="#8fd3fb"/></g></svg>
<div class="t" style="left:66px;top:288.4px;font-size:11.5px;color:#b5b5c3;line-height:14px">Truck Freight</div>
<div class="t" style="left:66px;top:303.2px;font-size:14.650px;font-weight:700;color:#3f4254;line-height:18px">#0066-954784</div>
<div class="abs" style="left:204px;top:297px;width:54px;height:16px;border-radius:4px;background:#f1faff;color:#009ef7;font-size:10.300px;font-weight:700;line-height:16px;text-align:center">Shipping</div>
<svg class="abs" style="left:30.80000000000001px;top:343px" width="14" height="14" viewBox="0 0 14 14"><circle cx="7" cy="7" r="6.200" fill="#fcd5de"/><circle cx="7" cy="7" r="2.200" fill="#fff" stroke="#f1416c" stroke-width="1.150"/></svg>
<div class="t" style="left:55px;top:334.4px;font-size:11.7px;color:#b5b5c3;line-height:14px">Haven van Rotterdam</div>
</div>
<div class="card" id="c7" style="left:579px;top:554px;width:279px;height:360px">
<div class="t" style="left:21.8px;top:20.8px;font-size:13.2px;font-weight:700;color:#3f4254;line-height:16px;">Top Selling Categories</div>
<div class="t" style="left:21.8px;top:38.1px;font-size:11.8px;color:#b5b5c3;line-height:14px;">8k social visitors</div>
<div class="va" style="left:196.5px;top:23px;width:61px;font-size:9.900px">View All</div>
<div class="abs" style="left:85.3px;top:74px;height:206px;width:1px;background:repeating-linear-gradient(180deg,#e4e8ef 0 2px,transparent 2px 3.500px)"></div><div class="abs" style="left:124.1px;top:74px;height:206px;width:1px;background:repeating-linear-gradient(180deg,#e4e8ef 0 2px,transparent 2px 3.500px)"></div><div class="abs" style="left:163.0px;top:74px;height:206px;width:1px;background:repeating-linear-gradient(180deg,#e4e8ef 0 2px,transparent 2px 3.500px)"></div><div class="abs" style="left:201.8px;top:74px;height:206px;width:1px;background:repeating-linear-gradient(180deg,#e4e8ef 0 2px,transparent 2px 3.500px)"></div><div class="abs" style="left:240.7px;top:74px;height:206px;width:1px;background:repeating-linear-gradient(180deg,#e4e8ef 0 2px,transparent 2px 3.500px)"></div><div class="abs" style="left:85.8px;top:84.8px;width:145.7px;height:20px;border-radius:0 5px 5px 0;background:#4aa3ff"></div><div class="t" style="left:18.2px;top:87.3px;font-size:10.8px;font-weight:700;color:#3f4254;line-height:14px;">ECR - 90%</div><div class="t" style="left:107.4px;top:89.4px;font-size:11.1px;font-weight:700;color:#fff;line-height:14px;">15,000</div><div class="abs" style="left:85.8px;top:125.6px;width:116.6px;height:20px;border-radius:0 5px 5px 0;background:#f2587f"></div><div class="t" style="left:18.2px;top:128.1px;font-size:10.8px;font-weight:700;color:#3f4254;line-height:14px;">FGI - 82%</div><div class="t" style="left:107.4px;top:130.2px;font-size:11.1px;font-weight:700;color:#fff;line-height:14px;">12,000</div><div class="abs" style="left:85.8px;top:166.4px;width:97.1px;height:20px;border-radius:0 5px 5px 0;background:#69d39b"></div><div class="t" style="left:18.2px;top:168.9px;font-size:10.8px;font-weight:700;color:#3f4254;line-height:14px;">EOQ - 75%</div><div class="t" style="left:107.4px;top:171.0px;font-size:11.1px;font-weight:700;color:#fff;line-height:14px;">10,000</div><div class="abs" style="left:85.8px;top:207.2px;width:77.7px;height:20px;border-radius:0 5px 5px 0;background:#ffcb1f"></div><div class="t" style="left:18.2px;top:209.7px;font-size:10.8px;font-weight:700;color:#3f4254;line-height:14px;">FMG - 60%</div><div class="t" style="left:105.8px;top:211.8px;font-size:11.1px;font-weight:700;color:#fff;line-height:14px;">8,000</div><div class="abs" style="left:85.8px;top:248.4px;width:68.0px;height:20px;border-radius:0 5px 5px 0;background:#7f4ee9"></div><div class="t" style="left:18.2px;top:250.9px;font-size:10.8px;font-weight:700;color:#3f4254;line-height:14px;">PLG - 50%</div><div class="t" style="left:105.0px;top:253.0px;font-size:11.1px;font-weight:700;color:#fff;line-height:14px;">7,000</div><div class="t" style="left:65.8px;width:40px;text-align:center;top:285.4px;font-size:10.300px;font-weight:700;color:#3f4254;line-height:14px">0K</div><div class="t" style="left:104.6px;width:40px;text-align:center;top:285.4px;font-size:10.300px;font-weight:700;color:#3f4254;line-height:14px">4K</div><div class="t" style="left:143.5px;width:40px;text-align:center;top:285.4px;font-size:10.300px;font-weight:700;color:#3f4254;line-height:14px">8K</div><div class="t" style="left:182.3px;width:40px;text-align:center;top:285.4px;font-size:10.300px;font-weight:700;color:#3f4254;line-height:14px">12K</div><div class="t" style="left:221.2px;width:40px;text-align:center;top:285.4px;font-size:10.300px;font-weight:700;color:#3f4254;line-height:14px">16K</div>
</div>
<div class="card" id="c8" style="left:883px;top:554px;width:279px;height:360px">
<div class="t" style="left:21.8px;top:20.8px;font-size:13.2px;font-weight:700;color:#3f4254;line-height:16px;">Visits by Country</div>
<div class="t" style="left:21.8px;top:38.1px;font-size:11.6px;color:#b5b5c3;line-height:14px;">20 countries share 97% visits</div>
<div class="va" style="left:196.2px;top:23px;width:61px;font-size:9.900px">View All</div>
<svg width="0" height="0" style="position:absolute"><defs><clipPath id="fc"><rect width="19" height="19" rx="3.500"/></clipPath></defs></svg><svg class="abs" style="left:21.2px;top:74.1px" width="19" height="19" viewBox="0 0 19 19"><g clip-path="url(#fc)"><rect width="19" height="19" fill="#fff"/><g fill="#f4556b"><rect y="0" width="19" height="1.600"/><rect y="2.900" width="19" height="1.500"/><rect y="5.800" width="19" height="1.500"/><rect y="8.700" width="19" height="1.500"/><rect y="11.600" width="19" height="1.500"/><rect y="14.500" width="19" height="1.500"/><rect y="17.400" width="19" height="1.600"/></g><rect width="9.500" height="8.700" fill="#4b5aa8"/><g fill="#c9cff0"><circle cx="2" cy="2" r=".5"/><circle cx="4.700" cy="2" r=".5"/><circle cx="7.400" cy="2" r=".5"/><circle cx="3.300" cy="4.300" r=".5"/><circle cx="6" cy="4.300" r=".5"/><circle cx="2" cy="6.600" r=".5"/><circle cx="4.700" cy="6.600" r=".5"/><circle cx="7.400" cy="6.600" r=".5"/></g></g></svg><div class="t" style="left:50.2px;top:69.8px;font-size:11.1px;font-weight:700;color:#3f4254;line-height:14px;">United States</div><div class="t" style="left:50.2px;top:85.2px;font-size:10.4px;color:#b5b5c3;line-height:14px;">Direct link clicks</div><div class="t" style="right:70.6px;top:76.6px;font-size:11.200px;font-weight:700;color:#3f4254;line-height:14px">9,763</div><div class="abs" style="left:216px;top:74.8px;width:41.500px;height:17.500px;border-radius:4px;background:#e8fff3"></div><svg class="abs" style="left:221px;top:79.1px" width="7" height="9" viewBox="0 0 7 9"><path d="M3.500 7.300 V2 M1.200 4.200 L3.500 1.900 L5.800 4.200" fill="none" stroke="#50cd89" stroke-width="1" stroke-linecap="round" stroke-linejoin="round"/></svg><div class="t" style="right:25.8px;top:76.6px;font-size:10.200px;font-weight:700;color:#50cd89;line-height:14px">2.6%</div><div class="abs" style="left:21px;top:106.0px;width:236.500px;height:1px;background:repeating-linear-gradient(90deg,#e6e9f1 0 2px,transparent 2px 3.500px)"></div><svg class="abs" style="left:21.2px;top:119.1px" width="19" height="19" viewBox="0 0 19 19"><g clip-path="url(#fc)"><rect width="19" height="19" fill="#6aaa17"/><path d="M9.500 3 L17 9.500 L9.500 16 L2 9.500Z" fill="#ffd73e"/><circle cx="9.500" cy="9.500" r="3.300" fill="#2f4fa6"/><path d="M6.400 8.800 Q9.500 7.800 12.700 10.300" stroke="#fff" stroke-width=".7" fill="none"/></g></svg><div class="t" style="left:50.2px;top:114.8px;font-size:11.1px;font-weight:700;color:#3f4254;line-height:14px;">Brasil</div><div class="t" style="left:50.2px;top:130.2px;font-size:10.4px;color:#b5b5c3;line-height:14px;">All Social Channels</div><div class="t" style="right:70.6px;top:121.6px;font-size:11.200px;font-weight:700;color:#3f4254;line-height:14px">4,062</div><div class="abs" style="left:216px;top:119.8px;width:41.500px;height:17.500px;border-radius:4px;background:#fff5f8"></div><svg class="abs" style="left:221px;top:124.1px" width="7" height="9" viewBox="0 0 7 9"><path d="M3.500 1.700 V7 M1.200 4.800 L3.500 7.100 L5.800 4.800" fill="none" stroke="#f1416c" stroke-width="1" stroke-linecap="round" stroke-linejoin="round"/></svg><div class="t" style="right:25.8px;top:121.6px;font-size:10.200px;font-weight:700;color:#f1416c;line-height:14px">0.4%</div><div class="abs" style="left:21px;top:151.0px;width:236.500px;height:1px;background:repeating-linear-gradient(90deg,#e6e9f1 0 2px,transparent 2px 3.500px)"></div><svg class="abs" style="left:21.2px;top:164.2px" width="19" height="19" viewBox="0 0 19 19"><g clip-path="url(#fc)"><rect width="19" height="19" fill="#f9495f"/><circle cx="7.400" cy="9.500" r="3.300" fill="#fff"/><circle cx="8.400" cy="9.500" r="2.600" fill="#f9495f"/><circle cx="11.700" cy="9.500" r=".9" fill="#fff"/></g></svg><div class="t" style="left:50.2px;top:159.9px;font-size:11.1px;font-weight:700;color:#3f4254;line-height:14px;">Turkey</div><div class="t" style="left:50.2px;top:175.3px;font-size:10.900px;color:#b5b5c3;line-height:14px;">Mailchimp Campaigns</div><div class="t" style="right:70.6px;top:166.7px;font-size:11.200px;font-weight:700;color:#3f4254;line-height:14px">1,680</div><div class="abs" style="left:216px;top:164.9px;width:41.500px;height:17.500px;border-radius:4px;background:#e8fff3"></div><svg class="abs" style="left:221px;top:169.2px" width="7" height="9" viewBox="0 0 7 9"><path d="M3.500 7.300 V2 M1.200 4.200 L3.500 1.900 L5.800 4.200" fill="none" stroke="#50cd89" stroke-width="1" stroke-linecap="round" stroke-linejoin="round"/></svg><div class="t" style="right:25.8px;top:166.7px;font-size:10.200px;font-weight:700;color:#50cd89;line-height:14px">0.2%</div><div class="abs" style="left:21px;top:196.1px;width:236.500px;height:1px;background:repeating-linear-gradient(90deg,#e6e9f1 0 2px,transparent 2px 3.500px)"></div><svg class="abs" style="left:21.2px;top:209.2px" width="19" height="19" viewBox="0 0 19 19"><g clip-path="url(#fc)"><rect width="19" height="19" fill="#fff"/><rect width="6.300" height="19" fill="#4250ad"/><rect x="12.700" width="6.300" height="19" fill="#f4556b"/></g></svg><div class="t" style="left:50.2px;top:204.9px;font-size:11.1px;font-weight:700;color:#3f4254;line-height:14px;">France</div><div class="t" style="left:50.2px;top:220.3px;font-size:10.600px;color:#b5b5c3;line-height:14px;">Impact Radius visits</div><div class="t" style="right:70.6px;top:211.7px;font-size:11.200px;font-weight:700;color:#3f4254;line-height:14px">849</div><div class="abs" style="left:216px;top:209.9px;width:41.500px;height:17.500px;border-radius:4px;background:#e8fff3"></div><svg class="abs" style="left:221px;top:214.2px" width="7" height="9" viewBox="0 0 7 9"><path d="M3.500 7.300 V2 M1.200 4.200 L3.500 1.900 L5.800 4.200" fill="none" stroke="#50cd89" stroke-width="1" stroke-linecap="round" stroke-linejoin="round"/></svg><div class="t" style="right:25.8px;top:211.7px;font-size:10.200px;font-weight:700;color:#50cd89;line-height:14px">4.1%</div><div class="abs" style="left:21px;top:241.1px;width:236.500px;height:1px;background:repeating-linear-gradient(90deg,#e6e9f1 0 2px,transparent 2px 3.500px)"></div><svg class="abs" style="left:21.2px;top:254.3px" width="19" height="19" viewBox="0 0 19 19"><g clip-path="url(#fc)"><rect width="19" height="19" fill="#fff"/><rect width="19" height="6.300" fill="#fcb53b"/><rect y="12.700" width="19" height="6.300" fill="#6aaa17"/><circle cx="9.500" cy="9.500" r="1.700" fill="#3c4fa3"/><circle cx="9.500" cy="9.500" r=".6" fill="#fff"/></g></svg><div class="t" style="left:50.2px;top:250.0px;font-size:11.1px;font-weight:700;color:#3f4254;line-height:14px;">India</div><div class="t" style="left:50.2px;top:265.4px;font-size:10.4px;color:#b5b5c3;line-height:14px;">Many Sources</div><div class="t" style="right:70.6px;top:256.8px;font-size:11.200px;font-weight:700;color:#3f4254;line-height:14px">604</div><div class="abs" style="left:216px;top:255.0px;width:41.500px;height:17.500px;border-radius:4px;background:#fff5f8"></div><svg class="abs" style="left:221px;top:259.3px" width="7" height="9" viewBox="0 0 7 9"><path d="M3.500 1.700 V7 M1.200 4.800 L3.500 7.100 L5.800 4.800" fill="none" stroke="#f1416c" stroke-width="1" stroke-linecap="round" stroke-linejoin="round"/></svg><div class="t" style="right:25.8px;top:256.8px;font-size:10.200px;font-weight:700;color:#f1416c;line-height:14px">8.3%</div><div class="abs" style="left:21px;top:286.2px;width:236.500px;height:1px;background:repeating-linear-gradient(90deg,#e6e9f1 0 2px,transparent 2px 3.500px)"></div><svg class="abs" style="left:21.2px;top:299.3px" width="19" height="19" viewBox="0 0 19 19"><g clip-path="url(#fc)"><rect width="19" height="19" fill="#3f77c9"/><rect x="5" width="3.800" height="19" fill="#ffd73e"/><rect y="7.600" width="19" height="3.800" fill="#ffd73e"/></g></svg><div class="t" style="left:50.2px;top:295.0px;font-size:11.1px;font-weight:700;color:#3f4254;line-height:14px;">Sweden</div><div class="t" style="left:50.2px;top:310.4px;font-size:10.4px;color:#b5b5c3;line-height:14px;">Social Network</div><div class="t" style="right:70.6px;top:301.8px;font-size:11.200px;font-weight:700;color:#3f4254;line-height:14px">237</div><div class="abs" style="left:216px;top:300.0px;width:41.500px;height:17.500px;border-radius:4px;background:#e8fff3"></div><svg class="abs" style="left:221px;top:304.3px" width="7" height="9" viewBox="0 0 7 9"><path d="M3.500 7.300 V2 M1.200 4.200 L3.500 1.900 L5.800 4.200" fill="none" stroke="#50cd89" stroke-width="1" stroke-linecap="round" stroke-linejoin="round"/></svg><div class="t" style="right:25.8px;top:301.8px;font-size:10.200px;font-weight:700;color:#50cd89;line-height:14px">1.9%</div>
</div>
<!-- side tabs -->
<div class="abs" style="left:1174.500px;top:434.500px;width:30px;height:55.500px;border-radius:6px 0 0 6px;background:#fff;box-shadow:0 0 12px rgba(30,30,60,.07)"></div>
<div class="abs" style="left:1174.500px;top:496.300px;width:30px;height:47.500px;border-radius:6px 0 0 6px;background:#fff;box-shadow:0 0 12px rgba(30,30,60,.07)"></div>
<div class="abs" style="left:1174.500px;top:549px;width:30px;height:69.500px;border-radius:6px 0 0 6px;background:#fff;box-shadow:0 0 12px rgba(30,30,60,.07)"></div>
<div class="t" style="left:1187.800px;top:462.100px;width:0;height:0"><div style="position:absolute;transform:translate(-50%,-50%) rotate(90deg);font-size:11.800px;color:#3f4254;white-space:nowrap;line-height:14px">Demos</div></div>
<div class="t" style="left:1187.800px;top:519.900px;width:0;height:0"><div style="position:absolute;transform:translate(-50%,-50%) rotate(90deg);font-size:11.800px;color:#3f4254;white-space:nowrap;line-height:14px">Help</div></div>
<div class="t" style="left:1187.800px;top:583.900px;width:0;height:0"><div style="position:absolute;transform:translate(-50%,-50%) rotate(90deg);font-size:11.800px;color:#3f4254;white-space:nowrap;line-height:14px">Buy now</div></div>

</body>
</html>
